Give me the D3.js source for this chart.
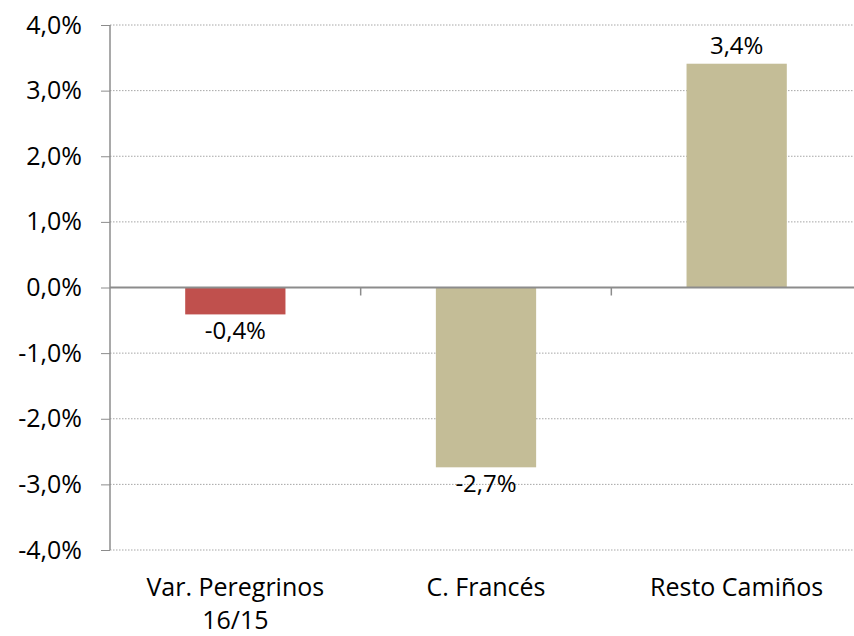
<!DOCTYPE html>
<html>
<head>
<meta charset="utf-8">
<script src="https://cdn.jsdelivr.net/npm/d3@7"></script>
<style>
  body { margin: 0; background: #fff; }
  svg { display: block; }
  svg text { font-family: "Open Sans", sans-serif; }
  .grid line { stroke: #a6a6a6; stroke-dasharray: 1.5 1.5; }
  .axis path, .axis line { stroke: #8c8c8c; }
  .axis text { fill: #000; font-size: 25px; }
  .value-label { font-size: 24px; fill: #000; }
</style>
</head>
<body>
<div id="chart"></div>
<script>
var categories = ["Var. Peregrinos 16/15", "C. Francés", "Resto Camiños"];
var values = [-0.0041, -0.0274, 0.0341];
var barColors = ["#c0504d", "#c4bd97", "#c4bd97"];
var yTicks = [-0.04, -0.03, -0.02, -0.01, 0, 0.01, 0.02, 0.03, 0.04];

var width = 854, height = 636;
var margin = {top: 25, right: -8, bottom: 86, left: 110};
var chartWidth = width - margin.left - margin.right,
    chartHeight = height - margin.top - margin.bottom;

var svg = d3.select("#chart").append("svg")
    .attr("width", width)
    .attr("height", height);
var g = svg.append("g")
    .attr("transform", "translate(" + margin.left + "," + margin.top + ")");

var x = d3.scaleBand()
    .domain(categories)
    .range([0, chartWidth])
    .paddingInner(0.6)
    .paddingOuter(0.3);

var y = d3.scaleLinear()
    .domain([-0.04, 0.04])
    .range([chartHeight, 0]);

// excel style: comma decimal, plain hyphen
var fmt = function(d) { return (d * 100).toFixed(1).replace(".", ",") + "%"; };

// gridlines
g.append("g")
    .attr("class", "grid")
    .selectAll("line")
    .data(yTicks.filter(function(d) { return d !== 0; }))
    .enter().append("line")
    .attr("x1", 0)
    .attr("x2", chartWidth)
    .attr("y1", function(d) { return y(d); })
    .attr("y2", function(d) { return y(d); });

// bars
g.append("g")
    .selectAll("rect")
    .data(values)
    .enter().append("rect")
    .attr("x", function(d, i) { return x(categories[i]); })
    .attr("y", function(d) { return y(Math.max(0, d)); })
    .attr("width", x.bandwidth())
    .attr("height", function(d) { return Math.abs(y(d) - y(0)); })
    .attr("fill", function(d, i) { return barColors[i]; });

// y axis
var yAxis = g.append("g")
    .attr("class", "axis")
    .call(d3.axisLeft(y).tickValues(yTicks).tickSize(9).tickPadding(19).tickFormat(fmt));
yAxis.attr("font-family", null).attr("font-size", null);
yAxis.select(".domain").attr("stroke-width", 1.5).attr("d", "M0," + chartHeight + "V0");

// zero line with category ticks
var xAxis = g.append("g")
    .attr("class", "axis")
    .attr("transform", "translate(0," + y(0) + ")");
xAxis.append("line")
    .attr("x1", 0).attr("x2", chartWidth)
    .attr("stroke-width", 2);
xAxis.selectAll(".ctick")
    .data(categories.slice(1))
    .enter().append("line")
    .attr("class", "ctick")
    .attr("x1", function(d) { return x(d) - x.step() * x.paddingInner() / 2; })
    .attr("x2", function(d) { return x(d) - x.step() * x.paddingInner() / 2; })
    .attr("y1", 0).attr("y2", 8)
    .attr("stroke-width", 1.5);

// category labels
var catLabels = g.append("g")
    .attr("class", "axis")
    .selectAll("text")
    .data(categories)
    .enter().append("text")
    .attr("x", function(d) { return x(d) + x.bandwidth() / 2; })
    .attr("y", chartHeight + 46)
    .attr("text-anchor", "middle");
catLabels.each(function(d) {
    var t = d3.select(this);
    var lines = d === "Var. Peregrinos 16/15" ? ["Var. Peregrinos", "16/15"] : [d];
    lines.forEach(function(l, i) {
        t.append("tspan")
            .attr("x", x(d) + x.bandwidth() / 2)
            .attr("dy", i === 0 ? 0 : 33)
            .text(l);
    });
});

// value labels
g.append("g")
    .selectAll("text")
    .data(values)
    .enter().append("text")
    .attr("class", "value-label")
    .attr("x", function(d, i) { return x(categories[i]) + x.bandwidth() / 2; })
    .attr("y", function(d) { return d >= 0 ? y(d) - 10 : y(d) + 25; })
    .attr("text-anchor", "middle")
    .text(fmt);
</script>
</body>
</html>
